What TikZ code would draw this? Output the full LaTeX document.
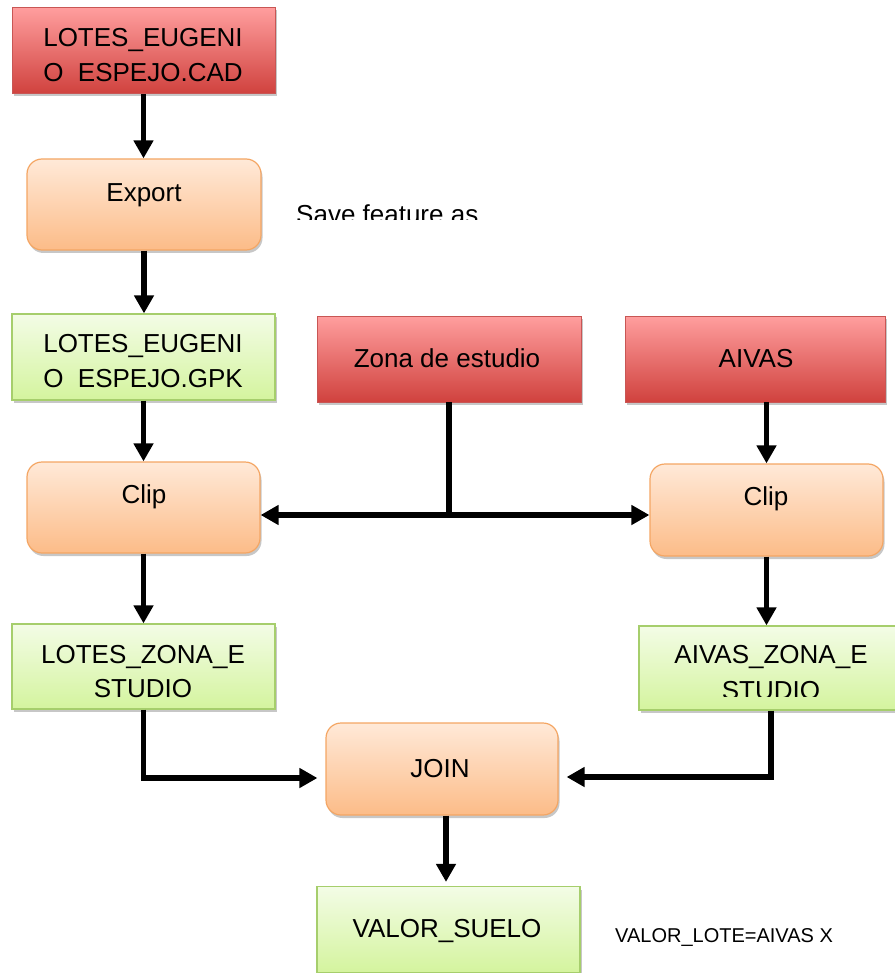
\documentclass[tikz,border=0pt]{standalone}
\usepackage{fontspec}
\setmainfont{Liberation Sans}
\usetikzlibrary{arrows.meta,shadows,calc}

\definecolor{redtop}{RGB}{255,158,158}
\definecolor{redbot}{RGB}{208,66,62}
\definecolor{redline}{RGB}{200,86,84}
\definecolor{orgtop}{RGB}{255,233,216}
\definecolor{orgbot}{RGB}{252,188,136}
\definecolor{orgline}{RGB}{244,166,100}
\definecolor{grntop}{RGB}{243,252,230}
\definecolor{grnbot}{RGB}{212,244,158}
\definecolor{grnline}{RGB}{166,206,108}

\tikzset{
  boxshadow/.style={drop shadow={shadow xshift=1.5pt, shadow yshift=-3pt, opacity=0.22, fill=black}},
  databox/.style={rectangle, draw=redline, line width=0.8pt, top color=redtop, bottom color=redbot, boxshadow, inner sep=0pt},
  procbox/.style={rectangle, rounded corners=15pt, draw=orgline, line width=1.2pt, top color=orgtop, bottom color=orgbot, boxshadow, inner sep=0pt},
  resultbox/.style={rectangle, draw=grnline, line width=1.2pt, top color=grntop, bottom color=grnbot, boxshadow, inner sep=0pt},
  lbl/.style={font=\fontsize{26}{30}\selectfont, anchor=base, inner sep=0pt},
  note/.style={font=\fontsize{26}{30}\selectfont, anchor=base west, inner sep=0pt},
  smallnote/.style={font=\fontsize{20}{24}\selectfont, anchor=base west, inner sep=0pt},
  wire/.style={line width=5.5pt, black},
  flow/.style={wire, -{Triangle[length=18pt,width=19pt]}},
}

\begin{document}
\begin{tikzpicture}[x=1pt, y=-1pt]
\useasboundingbox (0,0) rectangle (894,973);

% source layers
\node[databox, minimum width=263pt, minimum height=86pt] (cad) at (143.5,50.5) {};
\node[lbl] (cadA) at (143,47) {LOTES\_EUGENI};
\node[lbl] (cadB) at (143,82) {O\ \ ESPEJO.CAD};

\node[databox, minimum width=264pt, minimum height=86pt] (zona) at (449,359) {};
\node[lbl] (zonaT) at (447,367) {Zona de estudio};

\node[databox, minimum width=260pt, minimum height=86pt] (aivas) at (755,359) {};
\node[lbl] (aivasT) at (756,367) {AIVAS};

% processing steps
\node[procbox, minimum width=234pt, minimum height=91pt] (export) at (144,204.5) {};
\node[lbl] (exportT) at (144,202) {Export};

\begin{scope}
  \clip (280,190) rectangle (520,220);
  \node[note] (saveT) at (296,224) {Save feature as};
\end{scope}

\node[procbox, minimum width=233pt, minimum height=91pt] (clipL) at (143.5,507.5) {};
\node[lbl] (clipLT) at (144,503) {Clip};

\node[procbox, minimum width=233pt, minimum height=92pt] (clipR) at (766.5,510) {};
\node[lbl] (clipRT) at (766,505) {Clip};

\node[procbox, minimum width=232pt, minimum height=92pt] (join) at (442,769) {};
\node[lbl] (joinT) at (440,777) {JOIN};

% derived layers
\node[resultbox, minimum width=263pt, minimum height=86pt] (gpk) at (143.5,357) {};
\node[lbl] (gpkA) at (143,352) {LOTES\_EUGENI};
\node[lbl] (gpkB) at (143,387) {O\ \ ESPEJO.GPK};

\node[resultbox, minimum width=263pt, minimum height=85pt] (lzona) at (143.5,666.5) {};
\node[lbl] (lzonaA) at (143,663) {LOTES\_ZONA\_E};
\node[lbl] (lzonaB) at (143,697) {STUDIO};

\node[resultbox, minimum width=264pt, minimum height=84pt] (azona) at (771,668) {};
\node[lbl] (azonaA) at (771,663) {AIVAS\_ZONA\_E};
\begin{scope}
  \clip (700,670) rectangle (840,696);
  \node[lbl] (azonaB) at (771,699) {STUDIO};
\end{scope}

\node[resultbox, minimum width=263pt, minimum height=86pt] (valor) at (448.5,929.5) {};
\node[lbl] (valorT) at (447,937) {VALOR\_SUELO};

\node[smallnote] (formula) at (615,942) {VALOR\_LOTE=AIVAS X};

% connectors
\draw[flow] (cad.south) -- (cad.south |- export.north);
\draw[flow] (export.south) -- (export.south |- gpk.north);
\draw[flow] (gpk.south) -- (gpk.south |- clipL.north);

\coordinate (split) at (449,515);
\draw[wire] (zona.south) -- (split);
\draw[flow] (split) -- (clipL.east |- split);
\draw[flow] (split) -- (clipR.west |- split);

\draw[flow] (aivas.south -| clipR.north) -- (clipR.north);
\draw[flow] (clipL.south) -- (clipL.south |- lzona.north);
\draw[flow] (clipR.south) -- (clipR.south |- azona.north);

\coordinate (joinInL) at ($(join.west)+(0,9)$);
\coordinate (joinInR) at ($(join.east)+(0,8)$);
\draw[flow, shorten >=8pt] (lzona.south) |- (joinInL);
\draw[flow, shorten >=8pt] (azona.south) |- (joinInR);

\coordinate (joinOut) at ($(join.south)+(4,0)$);
\draw[flow, shorten >=4pt] (joinOut) -- (joinOut |- valor.north);
\end{tikzpicture}
\end{document}
